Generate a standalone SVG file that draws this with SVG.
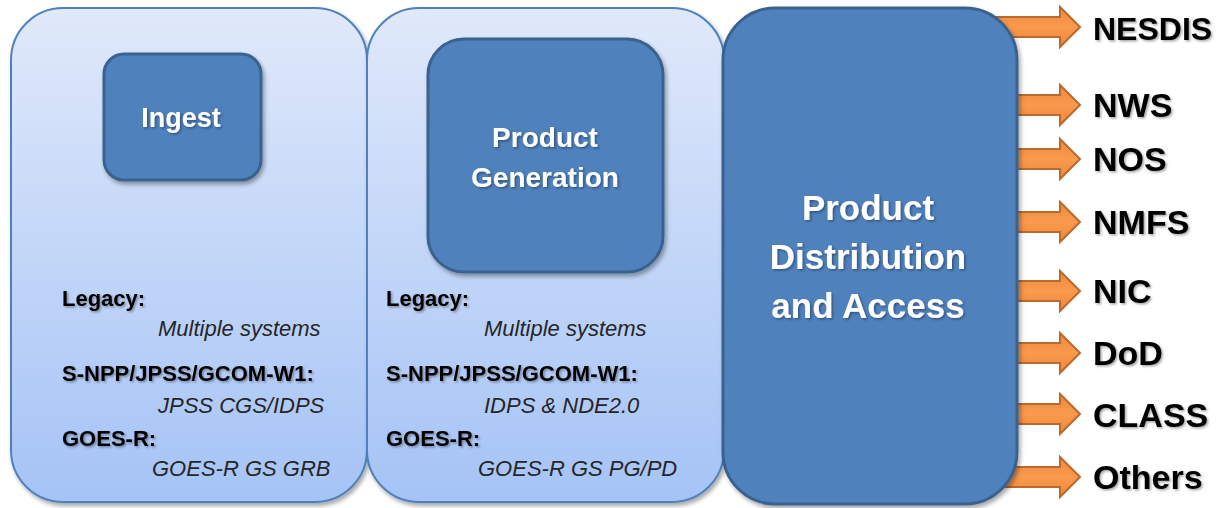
<svg xmlns="http://www.w3.org/2000/svg" width="1224" height="508" viewBox="0 0 1224 508">
<defs>
<linearGradient id="panelGrad" x1="0" y1="0" x2="0" y2="1">
<stop offset="0" stop-color="#E0E9FA"/>
<stop offset="1" stop-color="#A5C3F6"/>
</linearGradient>
<linearGradient id="arrowGrad" x1="0" y1="0" x2="0" y2="1">
<stop offset="0" stop-color="#F0883A"/>
<stop offset="0.5" stop-color="#F99A4E"/>
<stop offset="1" stop-color="#EE8638"/>
</linearGradient>
<filter id="boxShadow" x="-10%" y="-10%" width="120%" height="120%">
<feDropShadow dx="2" dy="3" stdDeviation="2" flood-color="#000" flood-opacity="0.35"/>
</filter>
<filter id="textShadow" x="-10%" y="-20%" width="120%" height="150%">
<feDropShadow dx="1.5" dy="1.5" stdDeviation="1.2" flood-color="#000" flood-opacity="0.35"/>
</filter>
</defs>
<style>
.panel{fill:url(#panelGrad);stroke:#4F81BD;stroke-width:2;filter:url(#boxShadow)}
.inner{fill:#4F81BD;stroke:#3A628F;stroke-width:3;filter:url(#boxShadow)}
.title{font-family:"Liberation Sans",Arial,sans-serif;font-weight:bold;fill:#FFFFFF;text-anchor:middle;filter:url(#textShadow)}
.hd{font-family:"Liberation Sans",Arial,sans-serif;font-weight:bold;font-size:22px;fill:#000;filter:url(#textShadow)}
.it{font-family:"Liberation Sans",Arial,sans-serif;font-style:italic;font-size:22px;fill:#262626}
.tgt{font-family:"Liberation Sans",Arial,sans-serif;font-weight:bold;fill:#000;filter:url(#textShadow)}
.arrow{fill:url(#arrowGrad);stroke:#B96A2C;stroke-width:2;stroke-linejoin:miter}
</style>
<rect width="1224" height="508" fill="#FFFFFF"/>

<g id="ingest-panel">
<rect class="panel" x="11" y="8" width="356" height="494" rx="52" ry="52"/>
<g id="ingest">
<rect class="inner" x="104" y="54" width="157" height="126" rx="20" ry="20"/>
<text class="title" x="181" y="127" font-size="27">Ingest</text>
</g>
<text class="hd" x="62" y="306">Legacy:</text>
<text class="it" x="158" y="336">Multiple systems</text>
<text class="hd" x="62" y="381">S-NPP/JPSS/GCOM-W1:</text>
<text class="it" x="158" y="413">JPSS CGS/IDPS</text>
<text class="hd" x="62" y="446">GOES-R:</text>
<text class="it" x="152" y="476">GOES-R GS GRB</text>
</g>

<g id="product-generation-panel">
<rect class="panel" x="367" y="8" width="357" height="494" rx="52" ry="52"/>
<g id="product-generation">
<rect class="inner" x="428" y="39" width="235" height="233" rx="36" ry="36"/>
<text class="title" x="545" y="147" font-size="28">Product</text>
<text class="title" x="545" y="187" font-size="28">Generation</text>
</g>
<text class="hd" x="386" y="306">Legacy:</text>
<text class="it" x="484" y="336">Multiple systems</text>
<text class="hd" x="386" y="381">S-NPP/JPSS/GCOM-W1:</text>
<text class="it" x="484" y="413">IDPS &amp; NDE2.0</text>
<text class="hd" x="386" y="446">GOES-R:</text>
<text class="it" x="478" y="476">GOES-R GS PG/PD</text>
</g>

<g id="connectors">
<path class="arrow" d="M990,17 H1060 V7 L1080,27 L1060,47 V37 H990 Z"/>
<path class="arrow" d="M990,95 H1060 V85 L1080,105 L1060,125 V115 H990 Z"/>
<path class="arrow" d="M990,149 H1060 V139 L1080,159 L1060,179 V169 H990 Z"/>
<path class="arrow" d="M990,212 H1060 V202 L1080,222 L1060,242 V232 H990 Z"/>
<path class="arrow" d="M990,281 H1060 V271 L1080,291 L1060,311 V301 H990 Z"/>
<path class="arrow" d="M990,343 H1060 V333 L1080,353 L1060,373 V363 H990 Z"/>
<path class="arrow" d="M990,404 H1060 V394 L1080,414 L1060,434 V424 H990 Z"/>
<path class="arrow" d="M990,467 H1060 V457 L1080,477 L1060,497 V487 H990 Z"/>
</g>

<g id="product-distribution">
<rect class="inner" x="723" y="8" width="294" height="496" rx="52" ry="52"/>
<text class="title" x="868" y="220" font-size="35">Product</text>
<text class="title" x="868" y="269" font-size="35">Distribution</text>
<text class="title" x="868" y="318" font-size="35">and Access</text>
</g>

<g id="nesdis"><text class="tgt" x="1093" y="40" font-size="32">NESDIS</text></g>
<g id="nws"><text class="tgt" x="1093" y="117" font-size="34">NWS</text></g>
<g id="nos"><text class="tgt" x="1093" y="171" font-size="34">NOS</text></g>
<g id="nmfs"><text class="tgt" x="1093" y="234" font-size="34">NMFS</text></g>
<g id="nic"><text class="tgt" x="1093" y="303" font-size="34">NIC</text></g>
<g id="dod"><text class="tgt" x="1093" y="365" font-size="34">DoD</text></g>
<g id="class"><text class="tgt" x="1093" y="427" font-size="34">CLASS</text></g>
<g id="others"><text class="tgt" x="1093" y="489" font-size="34">Others</text></g>
</svg>
